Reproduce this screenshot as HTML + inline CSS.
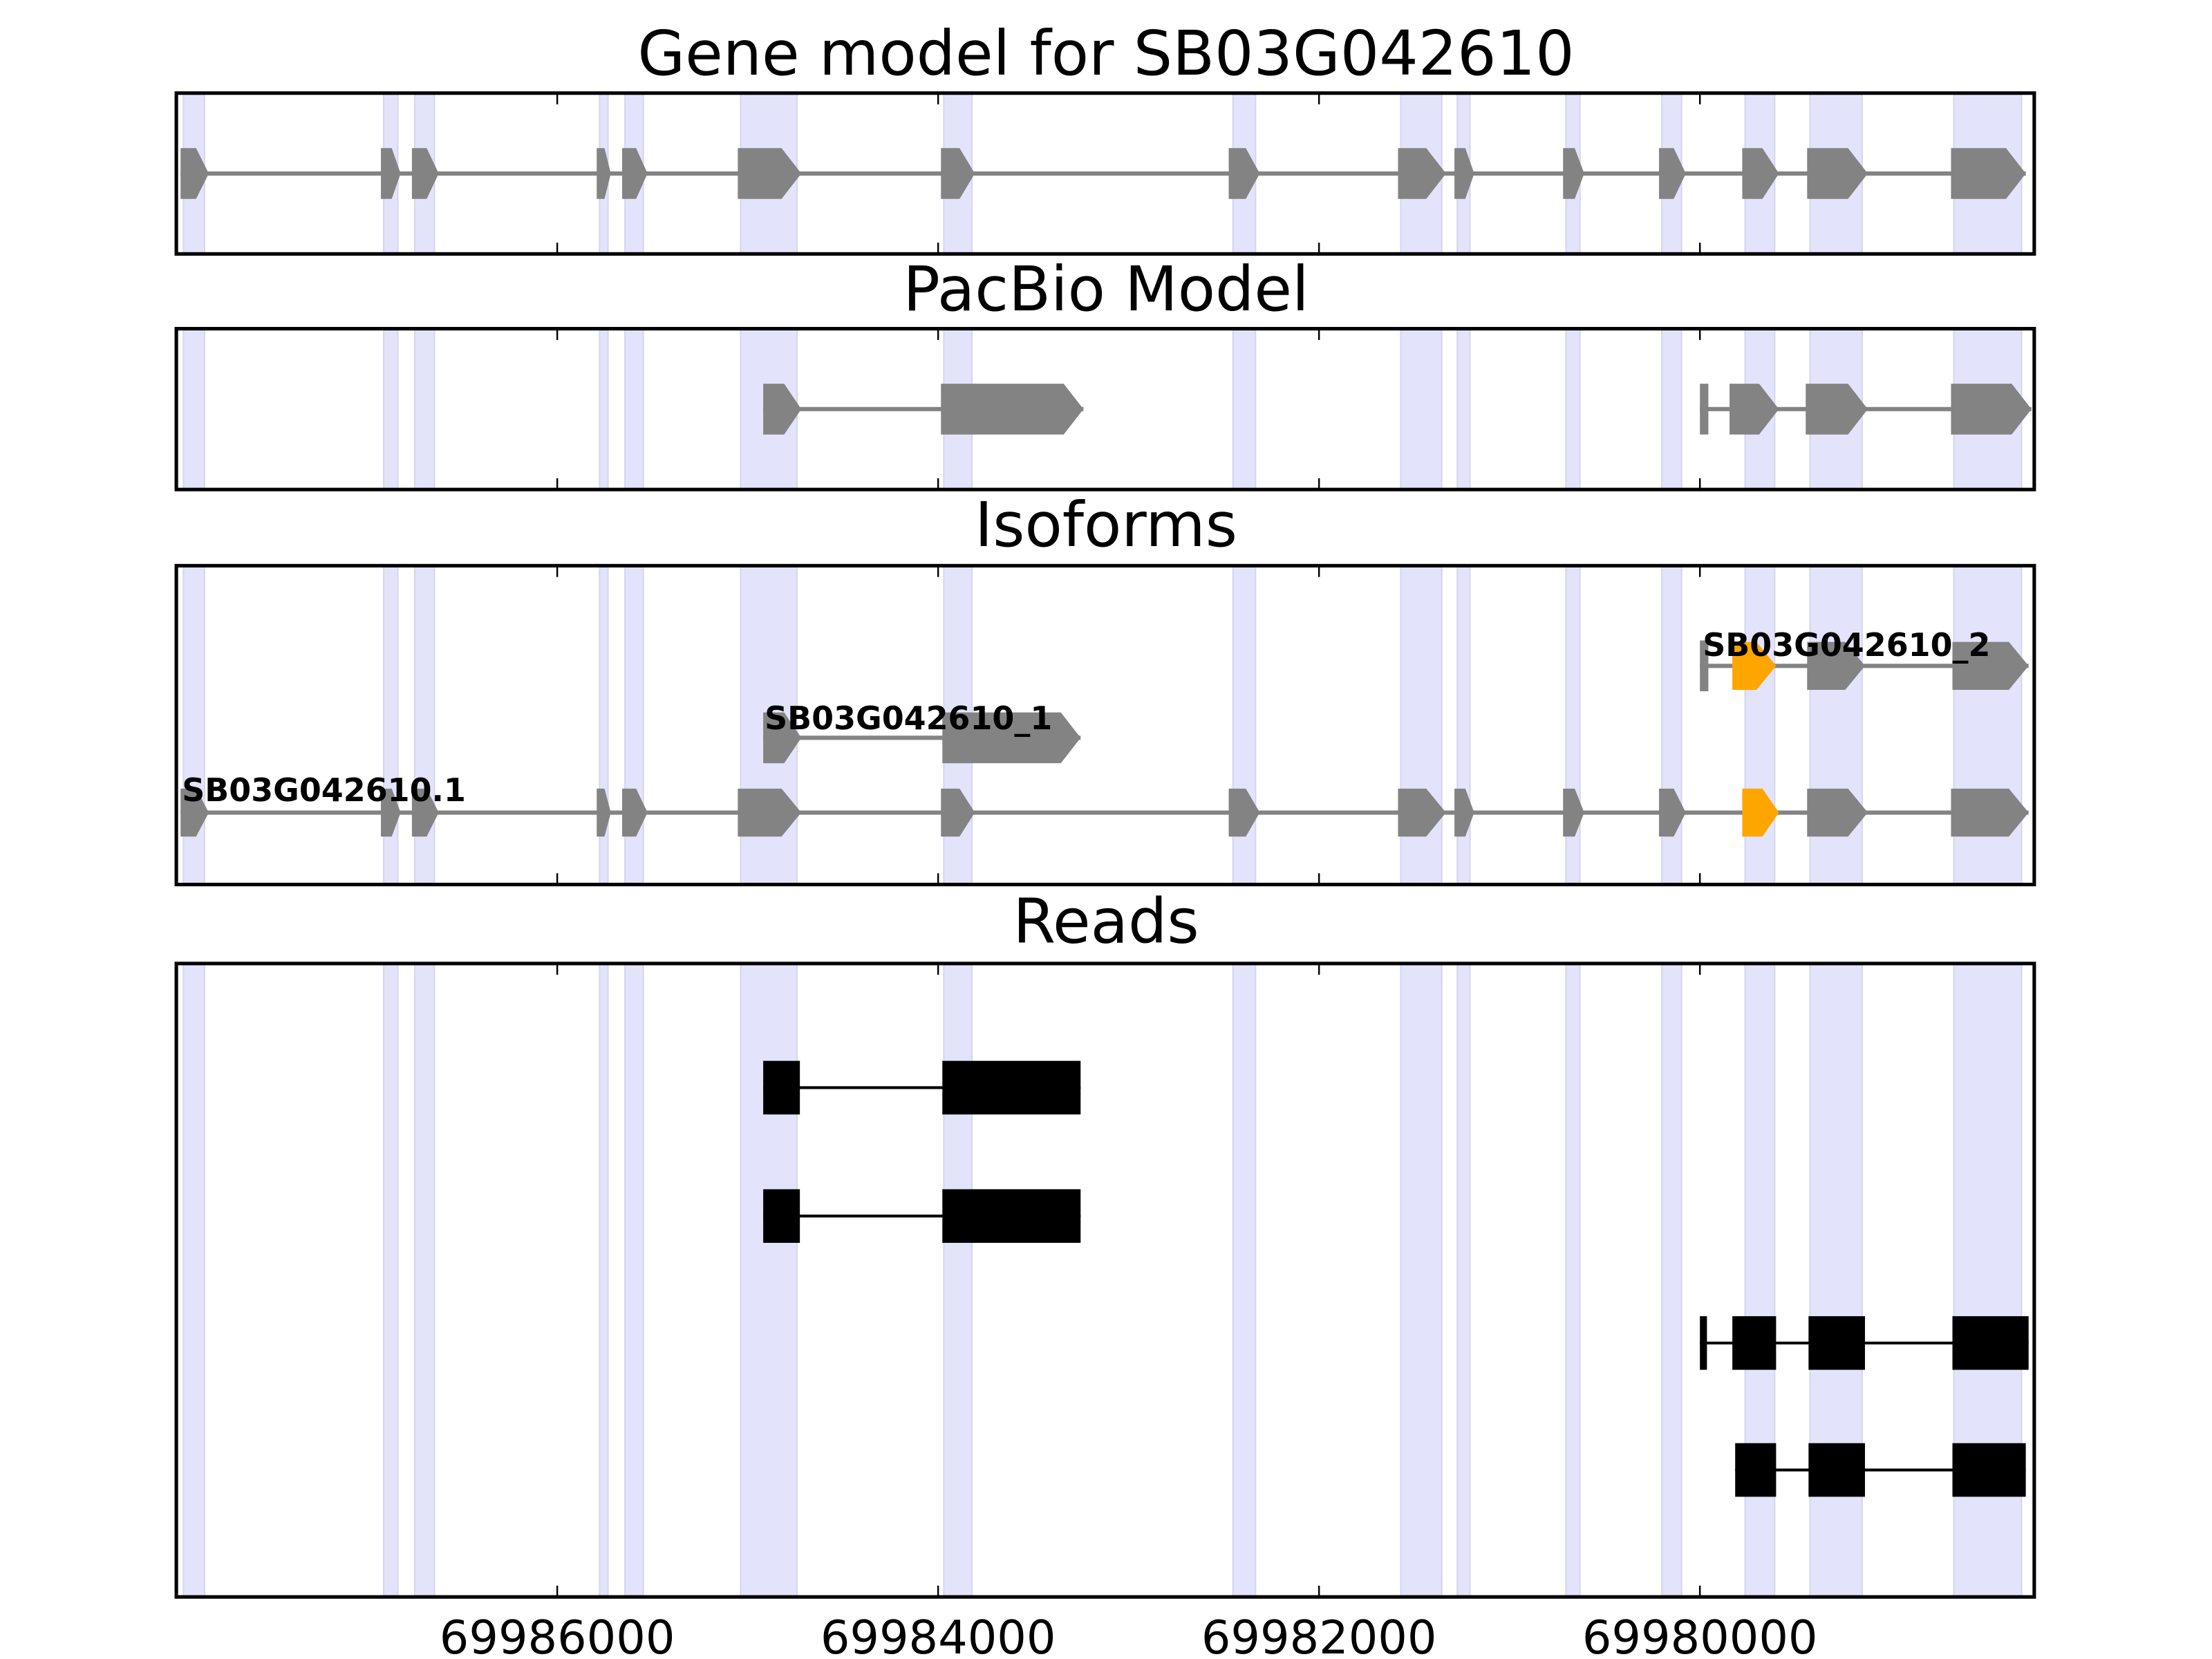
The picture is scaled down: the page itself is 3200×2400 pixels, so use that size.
<!DOCTYPE html>
<html><head><meta charset="utf-8"><style>
html,body{margin:0;padding:0;background:#fff;}
svg{display:block;}
text{font-family:"DejaVu Sans","Liberation Sans",sans-serif;}
</style></head><body>
<svg id="s" width="3200" height="2400" viewBox="0 0 1568 1176" xmlns="http://www.w3.org/2000/svg">
<text x="784" y="53" font-size="43.5" text-anchor="middle">Gene model for SB03G042610</text>
<text x="784" y="220" font-size="43.5" text-anchor="middle">PacBio Model</text>
<text x="784" y="387" font-size="43.5" text-anchor="middle">Isoforms</text>
<text x="784" y="668" font-size="43.5" text-anchor="middle">Reads</text>
<text x="395" y="1172" font-size="32.8" text-anchor="middle">69986000</text>
<text x="665" y="1172" font-size="32.8" text-anchor="middle">69984000</text>
<text x="935" y="1172" font-size="32.8" text-anchor="middle">69982000</text>
<text x="1205" y="1172" font-size="32.8" text-anchor="middle">69980000</text>
<g id="g"></g>
</svg>
<script>
var g=document.getElementById('g'),h='';
var panels=[[66,180],[233,347],[401,627],[683,1132]];
var bands=[[130,145],[272,282],[294,308],[425,431],[443,456],[525,565],[669,689],[874,890],[993,1022],[1033,1042],[1110,1120],[1178,1192],[1237,1258],[1283,1320],[1385,1433]];
panels.forEach(function(p){
 bands.forEach(function(b){h+='<rect x="'+b[0]+'" y="'+p[0]+'" width="'+(b[1]-b[0])+'" height="'+(p[1]-p[0])+'" fill="#e3e3fb" stroke="#d6d6ea" stroke-width="1"/>';});
});
function ex(x1,x2,y,hh,c){var w=x2-x1,t=Math.min(14,0.45*w);
 return '<polygon points="'+x1+','+(y-hh)+' '+(x2-t)+','+(y-hh)+' '+x2+','+y+' '+(x2-t)+','+(y+hh)+' '+x1+','+(y+hh)+'" fill="'+(c||'#838383')+'"/>';}
function line(x1,x2,y,c,w){return '<line x1="'+x1+'" x2="'+x2+'" y1="'+y+'" y2="'+y+'" stroke="'+(c||'#838383')+'" stroke-width="'+(w||3)+'"/>';}
var gm=[[128,148],[270,284],[292,311],[423,433],[441,459],[523,568],[667,691],[871,893],[991,1025],[1031,1045],[1108,1123],[1176,1195],[1235,1261],[1281,1324],[1383,1436]];
h+=line(128,1436,123);gm.forEach(function(e){h+=ex(e[0],e[1],123,18);});
h+=line(541,768,290);h+=ex(541,568,290,18);h+=ex(667,768,290,18);
h+=line(1205,1440,290);h+='<rect x="1205" y="272" width="6" height="36" fill="#838383"/>';
h+=ex(1226,1261,290,18);h+=ex(1280,1324,290,18);h+=ex(1383,1440,290,18);
h+=line(128,1438,576);gm.forEach(function(e,i){var x2=e[1];if(i==14)x2=1438;h+=ex(e[0],x2,576,17,i==12?'#ffa500':null);});
h+=line(541,766,523);h+=ex(541,568,523,18);h+=ex(668,766,523,18);
h+=line(1205,1438,472);h+='<rect x="1205" y="454" width="6" height="36" fill="#838383"/>';
h+=ex(1228,1259,472,17,'#ffa500');h+=ex(1281,1322,472,17);h+=ex(1384,1438,472,17);
h+='<text x="129" y="568" font-size="22.5" font-weight="bold">SB03G042610.1</text>';
h+='<text x="542" y="517" font-size="22.5" font-weight="bold">SB03G042610_1</text>';
h+='<text x="1207" y="465" font-size="22.5" font-weight="bold">SB03G042610_2</text>';
function rr(x1,x2,y){return '<rect x="'+x1+'" y="'+(y-19)+'" width="'+(x2-x1)+'" height="38" fill="#000"/>';}
[771,862].forEach(function(y){h+=line(541,766,y,'#000',2);h+=rr(541,567,y);h+=rr(668,766,y);});
h+=line(1205,1438,952,'#000',2);h+=rr(1205,1210,952);h+=rr(1228,1259,952);h+=rr(1282,1322,952);h+=rr(1384,1438,952);
h+=line(1230,1436,1042,'#000',2);h+=rr(1230,1259,1042);h+=rr(1282,1322,1042);h+=rr(1384,1436,1042);
var tx=[395,665,935,1205];
panels.forEach(function(p){
 tx.forEach(function(x){h+='<line x1="'+x+'" x2="'+x+'" y1="'+p[0]+'" y2="'+(p[0]+8)+'" stroke="#000" stroke-width="1.2"/><line x1="'+x+'" x2="'+x+'" y1="'+(p[1]-8)+'" y2="'+p[1]+'" stroke="#000" stroke-width="1.2"/>';});
 h+='<rect x="125" y="'+p[0]+'" width="1317" height="'+(p[1]-p[0])+'" fill="none" stroke="#000" stroke-width="2.5"/>';
});
g.innerHTML=h;
</script>
</body></html>
